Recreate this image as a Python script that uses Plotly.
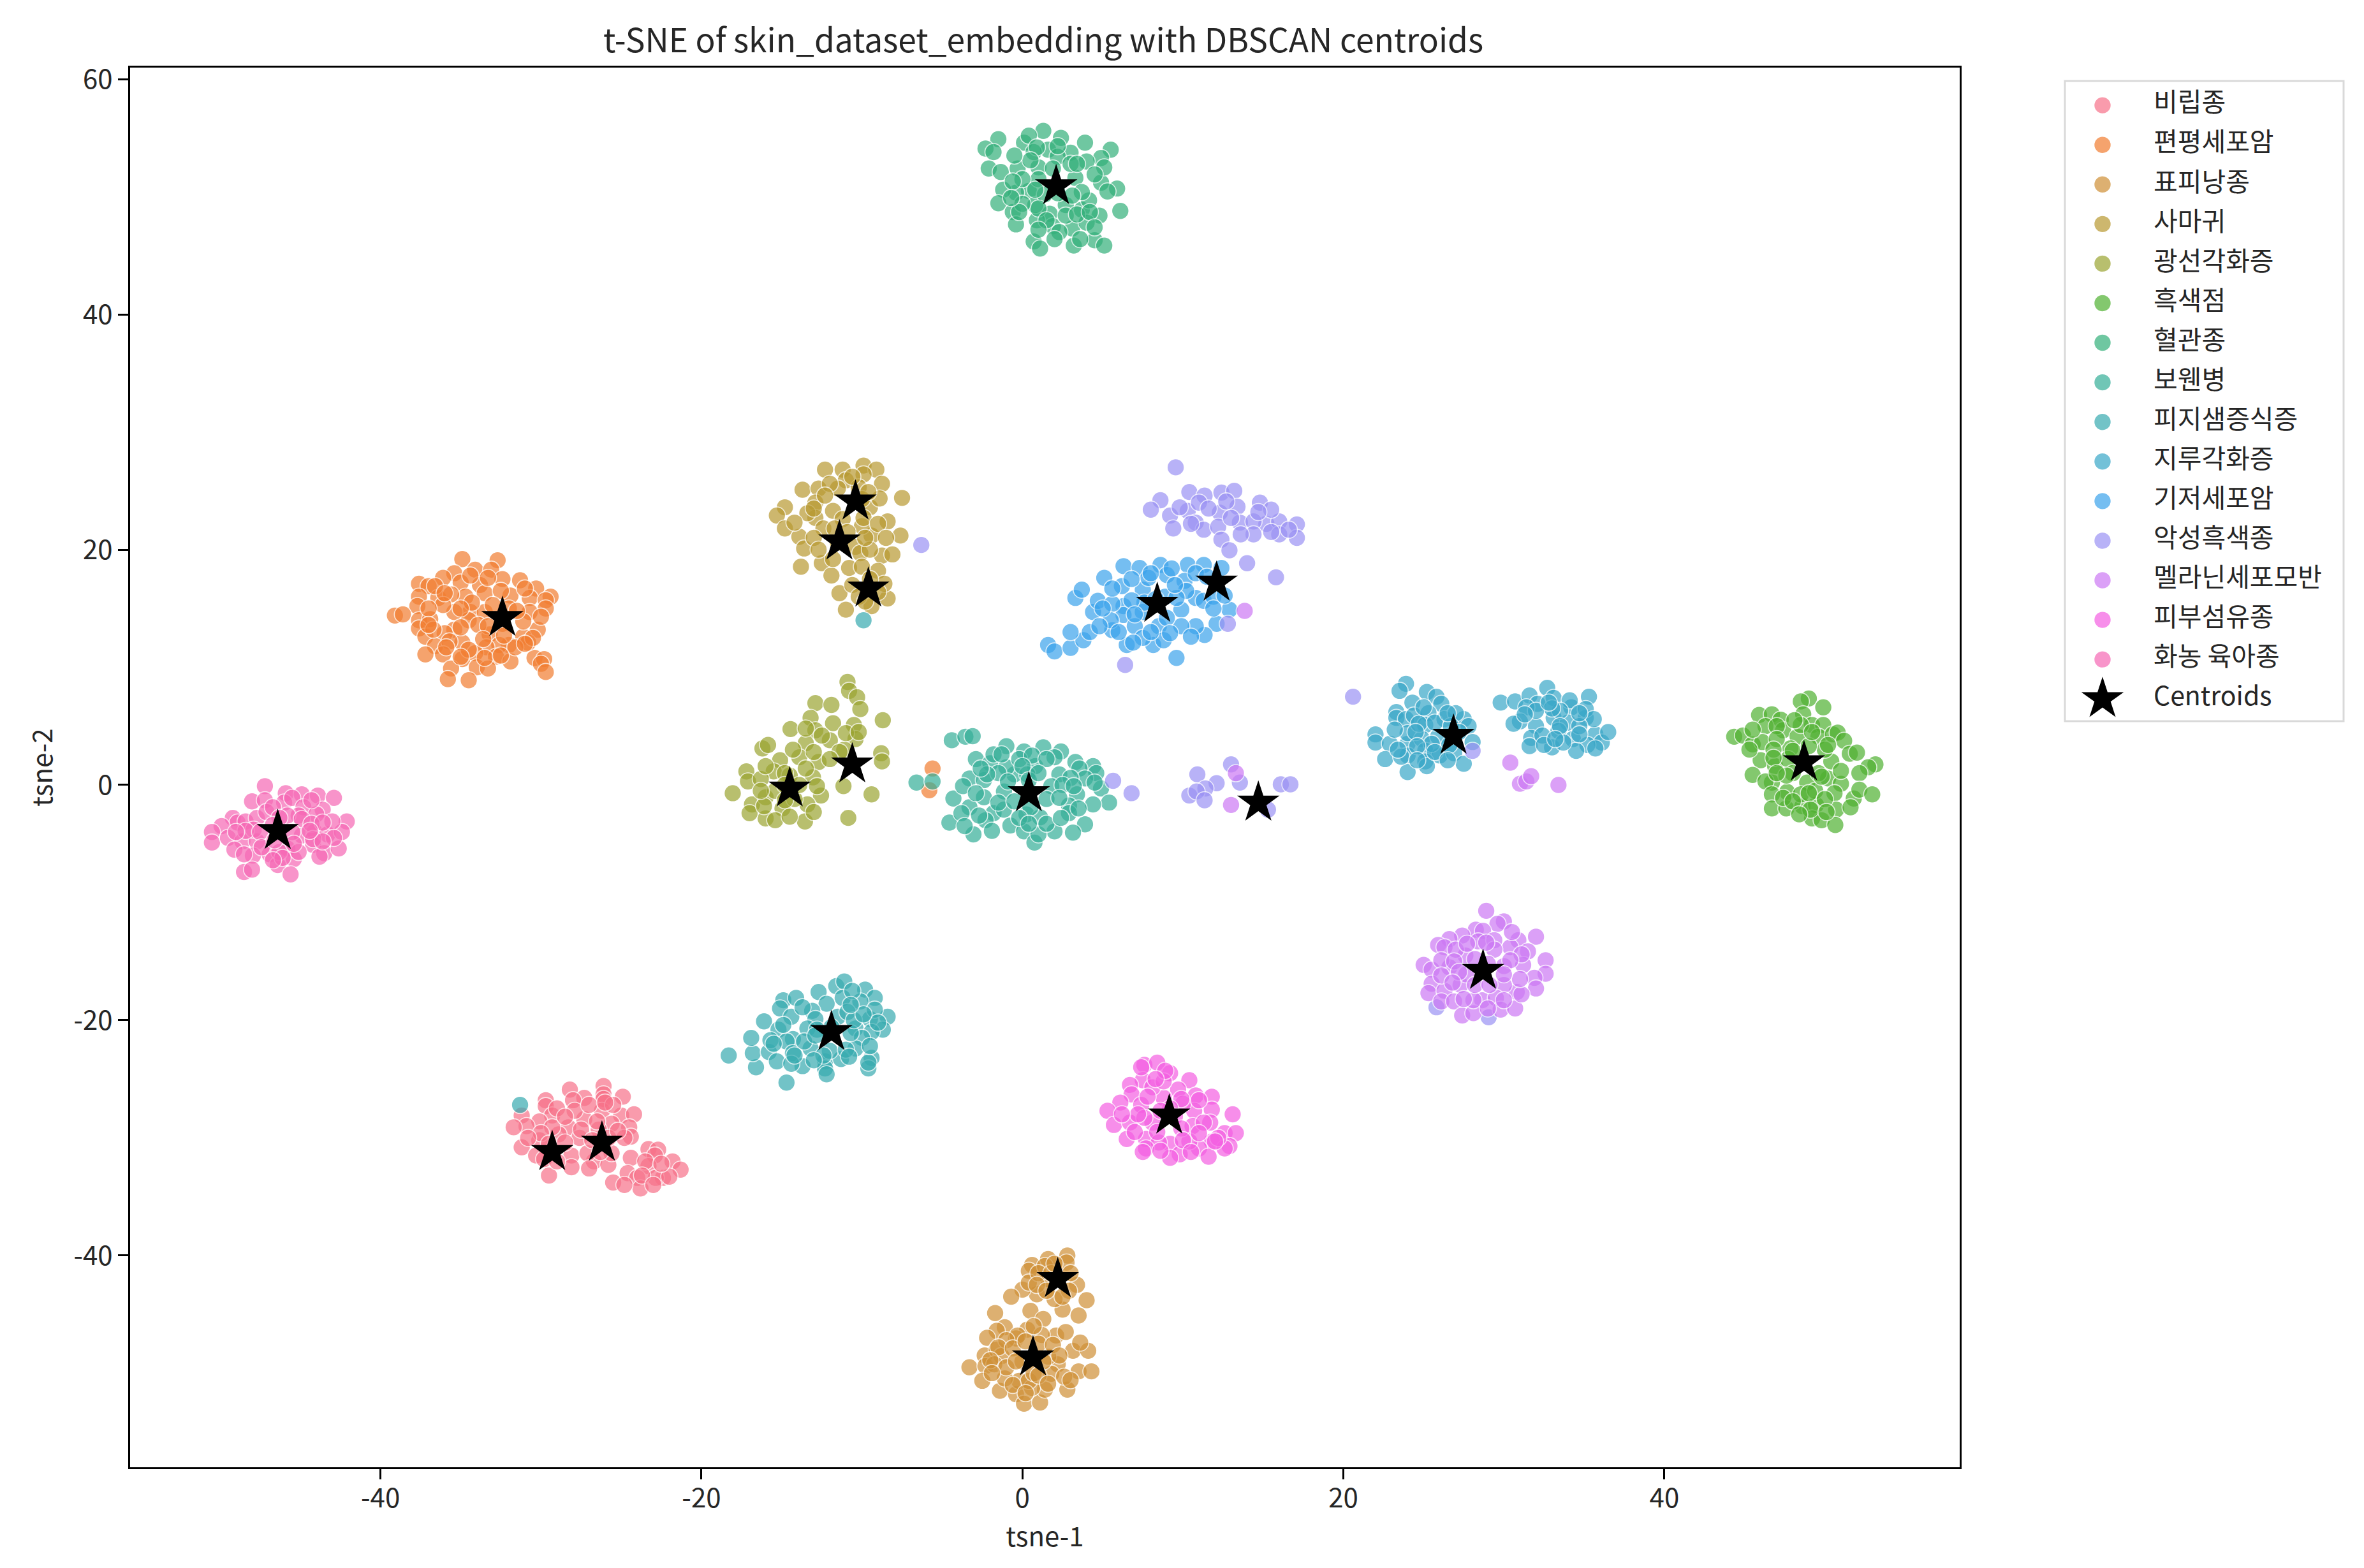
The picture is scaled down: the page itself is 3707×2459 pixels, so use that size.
import plotly.graph_objects as go

# class names, legend order
labels = ["비립종", "편평세포암", "표피낭종", "사마귀", "광선각화증", "흑색점", "혈관종", "보웬병",
          "피지샘증식증", "지루각화증", "기저세포암", "악성흑색종", "멜라닌세포모반", "피부섬유종", "화농 육아종"]

colors = ["#f77189", "#f27d30", "#cf9036", "#b89a32", "#9ba431", "#50b131", "#33b07a", "#35ae98",
          "#37abb0", "#39a7c8", "#3ba3ec", "#9b92f4", "#cc79f4", "#f45fe2", "#f668b5"]

milia = [(-28.2,-25.9),(-29.7,-26.8),(-27.3,-26.6),(-28.0,-26.8),(-26.1,-25.6),(-26.1,-26.3),(-26.1,-26.7),(-24.9,-26.5),
         (-29.7,-27.3),(-31.2,-28.1),(-29.3,-28.1),(-30.1,-28.6),(-30.9,-29.0),(-31.7,-29.1),(-27.3,-28.4),(-27.9,-27.7),
         (-25.0,-28.1),(-24.2,-28.0),(-26.2,-27.7),(-28.3,-29.1),(-25.6,-28.8),(-24.5,-29.1),(-24.4,-29.9),(-24.8,-30.0),
         (-30.1,-30.2),(-31.2,-30.8),(-27.6,-30.0),(-30.3,-31.5),(-28.1,-31.5),(-28.1,-32.5),(-29.5,-33.2),(-26.7,-32.0),
         (-25.8,-32.3),(-27.1,-31.3),(-25.6,-31.3),(-23.3,-30.95),(-22.7,-31.0),(-22.9,-31.5),(-24.4,-31.7),(-21.8,-32.0),
         (-21.3,-32.7),(-23.3,-32.4),(-24.6,-33.0),(-25.5,-33.8),(-24.0,-33.4),(-23.8,-34.3),(-22.4,-33.4),(-22.85,-33.4),
         (-22.0,-33.3),(-28.9,-29.7),(-26.4,-29.3),(-29.3,-29.1),
         (-29.0,-27.5),(-28.5,-28.2),(-27.0,-27.2),(-26.5,-28.6),(-25.5,-27.2),(-30.0,-29.6),(-29.5,-30.5),(-28.5,-30.4),
         (-27.5,-29.3),(-26.8,-30.2),(-25.8,-30.0),(-25.2,-29.4),(-29.8,-31.8),(-29.0,-32.0),(-27.0,-32.6),(-26.3,-31.2),
         (-23.5,-32.0),(-22.5,-32.2),(-23.7,-33.2),(-23.0,-34.0),(-24.8,-34.0),(-26.0,-27.0),(-30.8,-30.0)]

scc = [(-34.9,19.2),(-32.7,19.1),(-34.1,18.3),(-33.1,18.3),(-35.4,18.0),(-36.1,17.6),(-32.4,17.5),(-31.3,17.4),
       (-37.6,17.1),(-37.0,16.9),(-35.0,17.2),(-33.8,17.0),(-30.3,16.7),(-29.4,16.0),(-33.5,16.3),(-31.9,16.1),
       (-30.7,15.9),(-29.7,15.7),(-36.4,15.9),(-34.7,16.0),(-37.6,16.0),(-35.6,16.2),(-37.7,15.2),(-29.7,15.0),
       (-30.7,14.7),(-34.4,14.7),(-39.1,14.4),(-38.6,14.5),(-37.6,14.0),(-36.9,14.1),(-34.5,14.0),(-35.4,14.7),
       (-36.1,15.3),(-30.2,13.2),(-31.1,12.6),(-35.4,13.2),(-36.0,12.9),(-37.6,13.3),(-37.2,12.6),(-36.6,11.8),
       (-34.9,12.1),(-35.7,12.2),(-33.2,12.8),(-32.0,11.9),(-32.6,11.9),(-33.4,11.7),(-37.2,11.1),(-36.1,11.1),
       (-34.9,10.7),(-34.1,11.2),(-32.8,10.9),(-31.9,10.5),(-30.4,10.8),(-29.8,10.7),(-30.0,10.3),(-29.7,9.6),
       (-35.6,9.9),(-34.0,10.0),(-33.3,9.9),(-35.8,9.0),(-34.5,8.9),(-30.8,12.1),(-31.6,11.7),(-31.1,13.9),
       (-33.5,14.7),(-32.4,13.7),(-33.9,13.6),(-33.3,13.5),(-5.6,1.4),(-5.8,-0.45),
       (-36.6,16.9),(-36.0,16.3),(-34.4,17.8),(-33.3,17.6),(-32.5,16.5),(-31.0,16.7),(-34.3,15.5),(-33.0,15.3),(-32.0,15.0),
       (-31.5,14.8),(-35.0,15.0),(-37.0,15.0),(-36.7,13.2),(-35.0,13.4),(-35.9,11.7),(-33.6,12.4),(-34.5,11.5),(-33.5,10.8),
       (-32.3,12.7),(-30.5,12.5),(-30.0,14.3),(-31.0,12.0),(-32.5,11.0),(-37.0,13.6),(-35.0,10.9)]

cyst = [(2.8,-40.0),(1.6,-40.3),(0.6,-40.8),(0.4,-41.3),(2.75,-40.6),(1.4,-40.9),(3.4,-42.5),(0.9,-43.3),(0.0,-42.9),
        (-0.7,-43.5),(0.4,-42.3),(4.0,-43.8),(2.5,-44.6),(3.5,-45.1),(-1.7,-44.9),(0.5,-44.7),(1.3,-45.4),(-1.1,-46.1),
        (-1.6,-46.4),(0.3,-46.3),(2.1,-46.8),(-2.2,-47.0),(2.7,-46.5),(3.15,-48.1),(4.1,-48.1),(-2.35,-48.5),(-1.6,-48.0),
        (-3.3,-49.5),(-2.3,-49.4),(-2.5,-50.65),(-1.4,-51.5),(-0.4,-51.8),(0.1,-52.6),(1.1,-52.5),(1.4,-51.4),(2.8,-51.4),
        (3.5,-49.85),(4.3,-49.85),(2.2,-49.25),(1.8,-50.05),(-0.2,-50.65),(-1.1,-50.45),(0.6,-51.25),(-1.3,-48.55),
        (-0.4,-47.05),(1.2,-46.75),(2.0,-43.7),(0.4,-50.65),(-1.75,-49.25),(1.6,-42.0),(2.9,-43.0),(0.0,-49.0),(1.6,-48.6),
        (1.0,-41.5),(1.8,-41.5),(0.9,-42.5),(2.0,-40.7),(3.0,-41.5),(1.5,-43.0),(2.5,-43.5),(-0.3,-46.8),(-1.0,-47.2),
        (-1.5,-47.8),(-0.6,-47.9),(1.0,-47.5),(1.9,-47.6),(2.3,-48.5),(3.6,-47.4),(0.7,-46.0),(0.2,-47.3),(-2.0,-48.9),
        (-1.0,-49.5),(-0.4,-49.0),(0.7,-50.0),(1.3,-49.0),(1.0,-50.2),(2.6,-50.3),(-0.6,-51.0),(0.2,-51.7),(1.6,-50.9),
        (3.0,-50.6),(-1.9,-50.0)]

wart = [(-12.3,26.8),(-11.2,26.8),(-9.9,27.15),(-9.1,26.8),(-9.9,26.4),(-13.7,25.1),(-12.7,25.2),(-11.0,25.9),(-8.75,25.6),
        (-7.5,24.4),(-14.8,23.6),(-15.3,22.9),(-12.9,24.0),(-11.8,23.3),(-12.9,22.7),(-8.4,22.4),(-14.8,21.8),(-13.9,21.1),
        (-7.6,21.2),(-12.4,21.8),(-9.4,21.2),(-13.6,20.1),(-10.4,20.25),(-8.75,19.5),(-8.1,19.6),(-13.8,18.55),(-12.5,18.85),
        (-11.9,17.8),(-10.8,18.45),(-10.1,19.7),(-9.0,18.2),(-11.4,16.3),(-10.0,18.55),(-8.4,15.85),(-11.0,14.9),(-9.4,15.2),
        (-8.6,17.1),(-9.5,23.6),(-13.4,23.1),(-8.9,24.35),(-11.2,22.6),(-10.0,22.0),(-9.0,16.4),
        (-11.5,25.2),(-10.2,25.3),(-10.0,24.3),(-12.0,25.6),(-13.0,23.5),(-9.9,22.7),(-9.0,22.2),(-11.7,21.8),(-13.0,21.0),
        (-12.7,20.0),(-11.5,20.6),(-10.9,21.5),(-9.5,20.0),(-9.8,21.0),(-8.5,21.0),(-11.8,19.2),(-9.5,17.5),(-10.6,17.0),
        (-10.2,16.0),(-9.8,15.6),(-12.3,24.6),(-14.2,22.3),(-10.6,26.2),(-9.6,24.9)]

actinic = [(-10.9,8.75),(-10.8,8.0),(-10.3,7.45),(-10.1,6.45),(-12.9,6.95),(-11.9,6.8),(-8.7,5.5),(-13.2,5.7),(-11.8,5.25),
           (-10.5,5.1),(-14.45,4.75),(-12.9,4.65),(-13.5,3.55),(-12.0,3.8),(-10.4,3.9),(-16.2,3.1),(-15.85,3.4),(-8.8,2.7),
           (-8.75,2.0),(-12.7,1.95),(-15.1,2.1),(-17.2,1.15),(-15.5,1.15),(-17.1,0.3),(-18.05,-0.7),(-16.85,-1.65),(-16.0,-1.05),
           (-12.55,-0.9),(-13.05,0.65),(-11.15,-0.1),(-9.4,-0.8),(-10.85,-2.8),(-16.0,-2.85),(-14.95,-2.0),(-13.55,-3.1),
           (-13.4,-1.65),(-17.0,-2.4),(-13.9,2.35),(-14.5,0.8),(-15.4,-0.5),(-14.2,-1.2),(-11.1,3.0),
           (-11.0,4.4),(-12.5,4.2),(-13.5,4.8),(-11.4,2.8),(-12.0,2.2),(-13.0,2.8),(-14.3,3.0),(-16.3,0.5),(-16.0,1.6),(-14.8,1.0),
           (-13.9,0.0),(-12.8,-0.1),(-14.8,-1.3),(-16.1,-1.8),(-15.4,-3.0),(-14.5,-2.7),(-13.0,-2.3),(-16.3,-0.5),(-13.5,1.4),
           (-10.2,4.5),(-14.8,0.0)]

lentigo = [(49.0,7.35),(48.5,7.1),(49.9,6.6),(45.9,5.95),(46.7,6.0),(47.25,5.55),(48.65,6.0),(49.2,5.1),(49.9,5.1),(47.4,4.65),
           (46.3,5.0),(44.35,4.1),(44.9,4.2),(45.5,3.45),(46.1,3.65),(48.3,4.1),(49.6,4.1),(50.5,4.3),(50.8,4.45),(51.2,3.75),
           (47.85,3.1),(51.55,2.65),(52.0,2.75),(53.15,1.75),(52.7,1.5),(52.15,1.0),(50.4,2.0),(46.0,2.1),(46.9,1.6),(45.5,0.85),
           (46.7,0.2),(46.3,0.3),(50.2,0.55),(48.9,0.2),(51.0,0.1),(47.65,-0.6),(46.7,-0.8),(50.6,-0.7),(51.8,-1.15),(52.15,-0.4),
           (52.95,-0.8),(46.7,-2.0),(47.6,-2.0),(48.6,-1.8),(49.45,-1.7),(50.7,-2.1),(51.6,-1.9),(49.2,-2.85),(49.8,-3.0),
           (50.65,-3.4),(48.5,-0.8),(49.4,-0.5),(47.7,2.2),(48.0,1.0),(49.6,1.0),(50.0,3.0),
           (47.0,5.0),(48.5,5.1),(48.1,5.5),(45.5,4.7),(47.0,3.9),(46.8,3.0),(48.0,2.9),(49.0,3.3),(50.2,3.4),(46.8,2.3),(47.6,0.8),
           (47.0,1.0),(49.0,-0.7),(49.8,0.7),(47.4,-1.1),(48.0,-1.4),(50.0,-1.2),(49.1,-2.1),(50.1,-2.3),(48.4,-2.5),(51.0,1.2),
           (45.3,3.0),(49.2,4.5)]

hemangioma = [(1.3,55.6),(2.4,55.0),(3.9,54.6),(-1.5,54.9),(0.1,54.6),(0.4,55.2),(-2.3,54.1),(-1.8,53.8),(1.6,54.0),(3.0,53.75),
              (5.5,54.0),(4.9,53.3),(4.0,53.0),(-2.1,52.4),(-1.35,52.1),(-0.3,52.4),(1.0,52.5),(3.3,51.6),(4.9,51.2),(5.9,50.7),
              (5.3,50.45),(0.4,50.5),(-0.4,50.35),(-1.2,50.6),(-1.5,49.45),(-0.6,48.7),(6.1,48.8),(1.7,48.55),(3.7,48.9),(4.8,48.4),
              (4.15,49.7),(-0.4,47.65),(0.9,48.0),(1.9,47.5),(3.1,47.3),(4.0,47.8),(0.7,46.2),(1.1,45.6),(3.2,45.85),(4.5,46.3),
              (5.1,45.85),(2.7,49.3),(0.7,53.8),(2.2,53.4),(0.8,49.3),(1.0,51.5),
              (0.9,54.2),(2.2,54.3),(0.5,53.1),(-0.5,53.5),(3.0,52.8),(3.4,52.8),(1.9,52.4),(0.0,51.5),(1.4,50.2),(-0.6,51.3),
              (0.8,50.6),(2.2,50.3),(3.7,50.4),(3.1,50.1),(1.0,49.0),(0.0,49.4),(1.5,48.0),(2.7,48.4),(2.3,47.0),(3.4,48.5),
              (4.2,48.7),(-0.2,48.7),(-0.7,49.9),(5.1,52.5),(4.5,51.9),(1.0,47.2),(2.0,46.4),(3.6,46.4),(4.5,47.4)]

bowen = [(-4.4,3.8),(-3.55,4.1),(-3.1,4.15),(-6.6,0.2),(-5.6,0.3),(-1.0,3.3),(0.1,2.85),(1.3,3.2),(2.4,2.85),(-2.9,2.2),(-2.0,1.85),
         (-0.5,0.9),(0.8,1.6),(2.0,2.35),(3.3,1.95),(4.4,1.6),(4.6,1.0),(-3.3,0.55),(-2.4,0.4),(3.55,1.4),(3.9,0.55),(2.3,0.9),
         (1.8,-0.1),(4.9,-0.3),(5.4,-1.5),(4.4,-1.65),(3.4,-0.8),(2.9,-1.75),(-4.3,-1.15),(-2.4,-1.05),(-1.15,-0.55),(-3.3,-1.9),
         (-4.55,-3.2),(-3.05,-4.2),(-1.8,-2.4),(-1.15,-2.1),(-2.3,-3.0),(-0.75,-3.45),(0.25,-2.5),(0.1,-3.95),(0.75,-4.9),(1.1,-2.75),
         (2.0,-3.95),(2.9,-2.4),(3.9,-3.35),(3.15,-4.05),(1.0,-4.2),(-1.0,1.5),(0.3,0.9),(-1.8,2.6),
         (-1.3,2.6),(-0.2,2.2),(0.6,2.5),(1.5,2.2),(-1.5,1.0),(0.0,1.6),(-2.2,0.9),(-2.6,1.4),(-0.9,0.3),(0.4,0.4),(1.0,1.0),(3.0,0.6),
         (2.5,0.0),(4.5,0.2),(3.2,-0.1),(-3.7,-0.1),(-2.9,-0.7),(-1.5,-1.5),(-0.5,-1.4),(0.5,-1.9),(1.5,-1.2),(2.3,-1.1),(3.5,-2.0),
         (-2.7,-2.6),(-3.8,-2.4),(-3.6,-3.5),(-0.2,-2.8),(1.5,-3.3),(0.4,-3.3),(2.4,-2.8),(-1.9,-3.9)]

sebaceous = [(-18.3,-23.0),(-14.7,-25.3),(-16.6,-24.0),(-16.8,-22.8),(-15.8,-22.7),(-15.3,-23.5),(-16.9,-21.5),(-16.1,-20.1),(-15.2,-20.8),
             (-14.9,-18.3),(-14.1,-18.1),(-15.1,-19.0),(-12.7,-17.6),(-11.6,-17.1),(-11.1,-16.7),(-9.8,-17.4),(-9.2,-18.1),(-8.4,-19.7),
             (-8.7,-20.8),(-11.2,-18.1),(-10.1,-18.4),(-12.2,-18.6),(-13.1,-19.2),(-14.4,-19.7),(-12.9,-19.9),(-11.5,-19.7),(-9.5,-19.9),
             (-9.2,-19.1),(-10.4,-20.7),(-9.4,-21.0),(-10.0,-21.5),(-14.3,-21.6),(-14.7,-21.8),(-14.3,-22.8),(-13.2,-22.4),(-13.7,-23.9),
             (-14.4,-23.7),(-12.3,-23.5),(-12.3,-24.1),(-12.2,-24.6),(-11.3,-23.3),(-10.4,-22.4),(-9.4,-23.2),(-9.6,-24.1),(-9.6,-23.6),
             (-12.0,-22.6),(-13.4,-20.7),(-11.0,-22.5),(-31.3,-27.2),(-9.9,14.0),
             (-13.7,-18.9),(-11.9,-20.6),(-10.9,-19.3),(-12.8,-20.8),(-13.6,-21.8),(-12.9,-21.3),(-12.4,-23.0),(-13.0,-23.4),(-14.9,-20.4),
             (-15.7,-21.7),(-10.7,-21.1),(-9.0,-20.2),(-10.8,-23.1),(-10.5,-20.0),(-9.9,-19.5),(-10.6,-17.5),(-10.7,-18.7),(-15.5,-22.0),
             (-14.2,-23.0),(-9.5,-22.2)]

seborrheic = [(23.9,8.6),(23.5,8.0),(25.2,7.9),(25.8,7.5),(24.3,7.0),(26.1,6.9),(23.3,6.2),(23.3,5.7),(23.9,5.6),(24.4,5.9),(25.3,6.1),
              (26.3,5.6),(27.5,5.6),(27.8,5.0),(25.1,5.1),(22.0,4.3),(22.0,3.6),(22.9,3.5),(24.0,3.5),(24.0,4.4),(24.9,3.9),(25.9,4.1),
              (25.1,2.9),(26.0,2.5),(26.9,2.7),(28.05,3.65),(22.6,2.2),(24.0,2.5),(25.1,2.0),(25.2,1.6),(24.0,1.1),(27.5,1.8),(23.6,2.4),
              (27.0,6.1),(29.8,7.0),(30.7,7.1),(31.6,7.6),(32.7,8.25),(33.1,7.4),(35.3,7.5),(32.1,6.9),(34.2,6.6),(34.1,7.2),(31.4,6.6),
              (35.1,5.7),(31.0,5.4),(30.6,5.2),(33.1,5.7),(32.0,5.0),(34.0,5.3),(33.4,4.6),(31.7,4.0),(31.6,3.3),(33.0,3.2),(34.3,3.9),
              (35.7,4.3),(36.1,3.6),(36.5,4.5),(35.2,3.4),(34.5,2.9),(35.1,6.45),(35.6,5.6),(33.7,3.6),(32.4,4.2),
              (24.7,5.2),(25.7,5.3),(26.7,5.0),(24.5,4.5),(25.5,3.5),(26.6,3.4),(27.2,4.5),(23.2,4.7),(23.4,3.0),(24.6,3.3),(24.6,2.1),
              (25.7,2.8),(26.5,2.1),(25.0,6.6),(26.5,6.1),(33.5,6.3),(33.0,6.5),(32.0,6.3),(34.7,5.0),(33.5,5.0),(34.7,4.3),(32.5,3.4),
              (35.7,3.1),(31.3,6.0),(32.8,7.0),(34.7,6.1),(33.2,3.9)]

bcc = [(1.6,11.9),(2.0,11.35),(3.0,11.65),(3.8,12.3),(3.0,13.0),(4.2,13.0),(3.3,15.9),(3.7,16.6),(4.4,14.7),(5.1,17.6),(6.3,18.6),
       (7.3,18.45),(8.6,18.7),(10.3,18.7),(11.3,18.7),(12.4,18.45),(9.0,17.85),(10.1,17.35),(6.2,16.9),(7.5,16.6),(6.3,15.2),(7.5,14.7),
       (6.3,14.45),(9.9,14.9),(10.8,15.9),(11.3,15.65),(12.9,14.9),(12.1,13.7),(11.35,12.75),(10.8,13.5),(9.9,13.5),(8.5,13.5),(7.0,13.5),
       (5.6,13.15),(6.5,11.9),(8.15,11.9),(8.8,12.3),(9.6,10.8),(4.7,15.65),(7.85,17.6),(8.9,16.0),(5.6,15.4),(7.6,15.5),(10.2,16.5),
       (5.5,14.0),(6.8,15.7),(6.8,17.5),(8.0,18.0),(9.3,18.4),(10.8,18.0),(11.5,17.7),(8.3,15.8),(7.0,14.5),(9.0,14.2),(9.6,15.9),
       (9.5,17.0),(11.9,16.0),(6.0,13.0),(7.5,12.5),(8.0,13.0),(10.5,12.6),(5.0,15.0),(4.8,13.5),(6.9,12.1),(5.6,16.7),(11.9,15.0),
       (12.6,16.1),(9.2,12.9)]

melanoma = [(9.55,27.0),(10.4,24.9),(11.35,24.6),(12.4,24.85),(13.2,25.0),(8.6,24.2),(8.0,23.4),(9.2,22.9),(10.3,23.3),(12.3,23.15),
            (13.4,23.65),(14.8,24.0),(9.4,21.8),(10.8,22.3),(11.3,21.7),(12.2,21.95),(13.55,22.3),(15.2,22.2),(14.4,22.4),(16.0,22.4),
            (17.1,22.15),(16.0,21.3),(17.1,21.0),(14.4,21.3),(12.4,20.85),(12.9,19.95),(14.0,18.85),(15.8,17.65),(-6.3,20.4),(6.4,10.2),
            (12.8,13.7),(5.65,0.35),(6.8,-0.7),(10.9,0.9),(13.0,1.75),(12.1,0.15),(11.4,-0.3),(10.4,-0.9),(10.85,-0.55),(11.35,-1.3),
            (13.55,0.2),(16.1,0.05),(16.7,0.05),(15.3,-2.1),(20.6,7.5),(28.05,2.9),(25.8,-18.9),(29.05,-19.75),
            (11.0,24.0),(12.7,24.1),(10.5,22.2),(13.6,21.3),(15.5,23.4),(14.7,23.2),(9.8,23.6),(11.6,23.5),(15.5,21.5),(13.0,22.7),(16.6,21.7)]

nevus = [(28.9,-10.7),(30.0,-11.6),(29.6,-11.8),(28.25,-12.3),(28.7,-12.4),(27.4,-12.8),(26.6,-13.1),(25.9,-13.6),(26.3,-13.8),(28.4,-13.3),
         (29.4,-13.2),(30.9,-13.2),(32.0,-12.9),(30.4,-13.8),(31.5,-14.15),(27.6,-14.5),(29.4,-14.0),(32.6,-14.9),(25.0,-15.3),(25.5,-15.7),
         (26.6,-15.5),(26.1,-14.9),(31.2,-15.3),(30.0,-15.4),(32.6,-16.05),(31.9,-16.4),(25.5,-16.9),(25.3,-17.7),(26.3,-17.5),(27.3,-17.0),
         (30.8,-17.6),(32.0,-17.3),(30.0,-17.0),(28.65,-18.3),(29.5,-18.1),(26.1,-18.4),(26.9,-18.4),(27.4,-19.6),(28.1,-19.4),(29.8,-19.1),
         (30.7,-19.0),(31.1,-17.8),(28.1,-18.3),(27.65,-16.1),(13.3,1.0),(13.0,-1.7),(13.85,14.8),(30.4,1.9),(31.0,0.1),(31.4,0.3),(31.7,0.75),(33.4,0.0),
         (27.0,-14.0),(28.2,-14.8),(29.0,-15.2),(26.9,-15.0),(26.1,-16.2),(27.2,-15.9),(31.1,-14.4),(30.4,-14.9),(31.0,-16.5),(30.0,-16.1),
         (26.8,-16.8),(28.2,-17.0),(29.1,-17.0),(27.5,-18.2),(30.0,-18.3),(28.9,-13.4),(27.7,-13.5),(30.5,-12.5),(29.0,-19.0)]

fibroma = [(7.6,-23.8),(8.4,-23.6),(9.2,-24.5),(10.4,-25.1),(7.5,-25.1),(6.7,-25.5),(6.8,-26.3),(9.7,-25.9),(10.8,-26.4),(11.8,-26.5),(6.1,-27.0),
           (5.3,-27.7),(7.4,-27.2),(8.8,-26.6),(11.8,-27.6),(13.1,-28.0),(10.7,-27.7),(5.7,-28.9),(6.7,-28.7),(8.1,-28.7),(11.7,-28.7),(10.6,-29.0),
           (6.5,-30.1),(7.7,-30.1),(9.2,-30.5),(8.5,-30.4),(12.6,-29.6),(13.3,-29.6),(11.8,-30.3),(11.0,-30.9),(9.8,-31.4),(9.2,-31.7),(11.6,-31.6),
           (12.9,-30.7),(7.7,-30.9),(12.6,-30.9),(11.3,-28.7),(7.6,-28.3),(10.0,-27.1),(8.1,-25.7),(8.8,-25.2),(8.6,-31.1),(10.4,-30.3),
           (7.4,-24.0),(8.9,-24.3),(8.3,-25.0),(9.9,-26.7),(7.8,-26.5),(9.2,-27.5),(8.6,-27.7),(7.2,-28.0),(6.2,-28.0),(9.5,-28.2),(7.0,-29.5),
           (8.4,-29.5),(9.9,-29.2),(11.0,-29.6),(12.2,-30.0),(12.0,-30.3),(10.0,-30.2),(7.5,-31.2),(10.5,-31.2),(11.0,-26.8)]

granuloma = [(-47.2,-0.1),(-48.0,-1.4),(-47.2,-1.3),(-45.9,-0.7),(-44.9,-0.8),(-43.9,-0.9),(-42.9,-1.1),(-46.0,-1.5),(-45.5,-1.1),(-43.6,-2.1),
             (-44.8,-1.9),(-44.0,-2.5),(-42.1,-3.1),(-49.2,-2.8),(-48.9,-3.2),(-48.4,-3.1),(-47.7,-2.8),(-49.9,-3.5),(-50.5,-4.0),(-50.5,-4.9),
             (-49.5,-4.5),(-48.6,-4.8),(-47.7,-4.8),(-47.9,-3.8),(-49.1,-5.5),(-47.95,-6.0),(-46.9,-5.9),(-45.8,-5.4),(-45.4,-6.3),(-46.4,-6.8),
             (-48.5,-7.4),(-48.0,-7.2),(-45.6,-7.6),(-44.9,-4.3),(-44.1,-4.0),(-43.3,-4.2),(-42.4,-4.0),(-43.0,-3.1),(-44.2,-5.1),(-43.5,-5.8),
             (-43.8,-6.1),(-42.6,-5.4),(-45.1,-2.6),(-45.8,-2.6),(-47.1,-2.3),(-45.1,-5.7),(-46.3,-5.7),
             (-46.7,-1.9),(-46.3,-2.8),(-46.7,-3.4),(-44.9,-2.9),(-44.3,-3.3),(-43.6,-3.2),(-42.9,-4.5),(-44.3,-1.3),(-48.4,-3.9),(-49.0,-4.0),
             (-47.5,-4.0),(-47.4,-5.3),(-46.6,-4.7),(-45.5,-4.0),(-44.2,-4.6),(-43.6,-4.8),(-48.5,-5.9),(-46.1,-6.2),(-45.4,-5.0),(-46.7,-6.4),(-44.4,-3.9)]

classes = [milia, scc, cyst, wart, actinic, lentigo, hemangioma, bowen, sebaceous, seborrheic, bcc, melanoma, nevus, fibroma, granuloma]

centroid_x = [2.1, -32.4, -46.4, -29.3, -26.2, -11.9, 2.2, 0.66, 9.15, 28.7, 26.86, 48.7, 8.4, 12.1, -10.4, -11.4, -9.6, -14.5, -10.6, 0.4, 14.7]
centroid_y = [50.9, 14.2, -3.9, -31.2, -30.4, -21.0, -42.0, -48.65, -28.1, -15.8, 4.19, 1.93, 15.4, 17.2, 24.1, 20.7, 16.7, -0.3, 1.75, -0.7, -1.5]

x_ticks = [-40, -20, 0, 20, 40]
x_tick_text = ["-40", "-20", "0", "20", "40"]
y_ticks = [-40, -20, 0, 20, 40, 60]
y_tick_text = ["-40", "-20", "0", "20", "40", "60"]

legend_rows = list(range(16))

W, H = 3707, 2459
FONT = "Noto Sans CJK KR"
TXT = "#262626"

fig = go.Figure()

for name, pts, col in zip(labels, classes, colors):
    xs, ys = zip(*pts)
    fig.add_trace(go.Scatter(x=xs, y=ys, mode="markers", name=name, showlegend=False,
                             marker=dict(size=27, color=col, opacity=0.7, line=dict(color="white", width=1.6))))

fig.add_trace(go.Scatter(x=centroid_x, y=centroid_y, mode="markers", name="Centroids", showlegend=False,
                         marker=dict(symbol="star", size=50, color="black", line=dict(width=0))))

# legend drawn on its own small axes, the native one caps marker size
fig.add_trace(go.Scatter(x=[0.135] * 15, y=legend_rows[:15], mode="markers", xaxis="x2", yaxis="y2", showlegend=False,
                         marker=dict(size=27, color=colors, opacity=0.7, line=dict(color="white", width=1.6))))
fig.add_trace(go.Scatter(x=[0.135], y=legend_rows[15:], mode="markers", xaxis="x2", yaxis="y2", showlegend=False,
                         marker=dict(symbol="star", size=50, color="black", line=dict(width=0))))
fig.add_trace(go.Scatter(x=[0.318] * 16, y=legend_rows, mode="text", xaxis="x2", yaxis="y2", showlegend=False,
                         text=labels + ["Centroids"], textposition="middle right",
                         textfont=dict(family=FONT, size=41, color=TXT)))

axis_common = dict(showgrid=False, zeroline=False, showline=True, mirror=True, linecolor="black", linewidth=3,
                   ticks="outside", ticklen=16, tickwidth=2.5, tickcolor="black",
                   tickfont=dict(family=FONT, size=42, color=TXT))

fig.update_layout(
    width=W, height=H, autosize=False,
    margin=dict(l=0, r=0, t=0, b=0, autoexpand=False),
    paper_bgcolor="white", plot_bgcolor="white",
    showlegend=False,
    title=dict(text="t-SNE of skin_dataset_embedding with DBSCAN centroids", x=1636 / W, y=1 - 64 / H,
               xanchor="center", yanchor="middle", font=dict(family=FONT, size=51.5, color=TXT)),
    xaxis=dict(domain=[204 / W, 3073 / W], range=[-55.6, 58.4], tickvals=x_ticks, ticktext=x_tick_text, ticklabelstandoff=-6,
               title=dict(text="tsne-1", standoff=12, font=dict(family=FONT, size=42, color=TXT)), **axis_common),
    yaxis=dict(domain=[1 - 2301 / H, 1 - 106 / H], range=[-58.0, 60.98], tickvals=y_ticks, ticktext=y_tick_text,
               title=dict(text="tsne-2", standoff=20, font=dict(family=FONT, size=42, color=TXT)), **axis_common),
    xaxis2=dict(domain=[3238 / W, 3675 / W], range=[0, 1], visible=False, anchor="y2"),
    yaxis2=dict(domain=[1 - 1131 / H, 1 - 127 / H], range=[15.56, -0.614], visible=False, anchor="x2"),
    shapes=[dict(type="rect", xref="paper", yref="paper", x0=3238 / W, x1=3675 / W, y0=1 - 1131 / H, y1=1 - 127 / H,
                 line=dict(color="#d9d9d9", width=3))],
)

fig.write_html("out.html", config={"displayModeBar": False}, post_script="document.body.style.margin='0';")
